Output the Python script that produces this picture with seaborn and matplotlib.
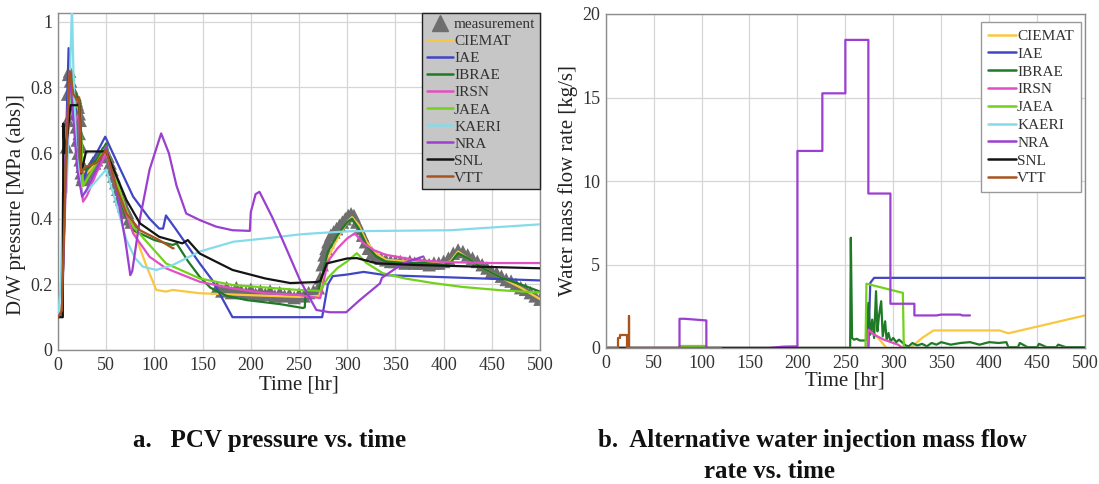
import numpy as np
import pandas as pd
import matplotlib
matplotlib.use("Agg")
import matplotlib.pyplot as plt
from matplotlib.lines import Line2D
from matplotlib.ticker import FormatStrFormatter
import seaborn as sns

# ---------------- data ----------------
models = ["CIEMAT", "IAE", "IBRAE", "IRSN", "JAEA", "KAERI", "NRA", "SNL", "VTT"]
colors = ["#f7c840", "#4146c4", "#1e7a25", "#e14fc4", "#72d11c",
          "#86dbe9", "#9b3fd0", "#141414", "#a9541f"]

# measurement (PCV pressure)
meas_t = [9, 10, 10, 11, 12, 13, 14, 15, 16, 17, 18, 18, 19, 19, 20, 20, 21, 21, 22, 22,
          23, 23, 24, 24, 25, 25, 26, 27, 28, 30, 32, 34, 36, 38, 40, 42, 44, 46, 48, 50,
          52, 54, 56, 58, 60, 62, 64, 66, 68, 70, 72, 74, 76,
          165, 170, 175, 180, 185, 190, 195, 200, 205, 210, 215, 220, 225, 230, 235, 240,
          245, 250, 255, 260, 265, 270,
          272, 274, 276, 278, 280, 283, 286, 289, 292, 295, 298, 301, 304, 307, 310, 313,
          316, 319, 322, 326, 330, 335, 340, 345, 350, 355, 360, 365, 370, 375, 380, 385,
          390, 395, 400, 405, 410, 415, 420, 425, 430, 435, 440, 445, 450, 455, 460, 465,
          470, 475, 480, 485, 490, 495, 500]
meas_p = [0.62, 0.70, 0.78, 0.84, 0.85, 0.82, 0.80, 0.78, 0.76, 0.78, 0.77, 0.72, 0.76, 0.68,
          0.75, 0.64, 0.74, 0.60, 0.72, 0.66, 0.70, 0.58, 0.62, 0.54, 0.56, 0.52, 0.53, 0.52,
          0.53, 0.54, 0.55, 0.56, 0.57, 0.57, 0.58, 0.59, 0.59, 0.60, 0.60, 0.60,
          0.59, 0.57, 0.55, 0.53, 0.51, 0.49, 0.47, 0.46, 0.44, 0.43, 0.42, 0.40, 0.39,
          0.19, 0.18, 0.19, 0.175, 0.19, 0.18, 0.175, 0.185, 0.17, 0.18, 0.17, 0.18, 0.165,
          0.175, 0.165, 0.17, 0.16, 0.17, 0.165, 0.175, 0.18, 0.19,
          0.22, 0.26, 0.29, 0.31, 0.33, 0.35, 0.36, 0.37, 0.38, 0.39, 0.40, 0.41, 0.415,
          0.41, 0.39, 0.37, 0.35, 0.33, 0.31, 0.295, 0.285, 0.28, 0.275, 0.27, 0.27, 0.27,
          0.265, 0.27, 0.265, 0.265, 0.265, 0.26, 0.265, 0.265, 0.27, 0.28, 0.295, 0.305,
          0.30, 0.29, 0.28, 0.27, 0.26, 0.25, 0.24, 0.235, 0.225, 0.215, 0.21, 0.20, 0.19,
          0.185, 0.175, 0.165, 0.155]

# model pressures [MPa (abs)]
ciemat_pt = [0, 4, 8, 12, 16, 20, 23, 25, 30, 40, 50, 60, 70, 78, 85, 92, 102, 112, 119, 147,
             200, 249, 271, 280, 290, 300, 305, 312, 320, 330, 340, 360, 380, 400, 407, 415,
             425, 440, 460, 480, 500]
ciemat_p = [0.10, 0.12, 0.55, 0.80, 0.78, 0.76, 0.74, 0.55, 0.54, 0.57, 0.60, 0.52, 0.43,
            0.376, 0.31, 0.254, 0.183, 0.178, 0.183, 0.173, 0.167, 0.162, 0.165, 0.28, 0.34,
            0.39, 0.405, 0.38, 0.33, 0.295, 0.275, 0.27, 0.265, 0.265, 0.27, 0.30, 0.28,
            0.25, 0.22, 0.19, 0.155]
iae_pt = [0, 4, 8, 11, 13, 16, 19, 22, 24, 27, 30, 40, 49, 60, 78, 95, 105, 109, 112, 123,
          147, 160, 181, 274, 280, 285, 300, 317, 340, 400, 500]
iae_p = [0.10, 0.11, 0.60, 0.92, 0.78, 0.70, 0.74, 0.76, 0.55, 0.52, 0.55, 0.60, 0.65, 0.58,
         0.467, 0.40, 0.37, 0.37, 0.41, 0.365, 0.264, 0.213, 0.10, 0.10, 0.20, 0.225, 0.23,
         0.238, 0.228, 0.222, 0.212]
ibrae_pt = [0, 4, 8, 12, 16, 20, 23, 25, 30, 40, 50, 60, 70, 78, 100, 119, 123, 135, 147,
            158, 175, 196, 230, 254, 256, 257, 270, 280, 290, 300, 305, 312, 320, 330, 340,
            360, 380, 400, 407, 415, 425, 440, 460, 480, 500]
ibrae_p = [0.10, 0.12, 0.55, 0.86, 0.80, 0.77, 0.76, 0.55, 0.55, 0.58, 0.63, 0.50, 0.41,
           0.365, 0.335, 0.32, 0.325, 0.27, 0.223, 0.19, 0.165, 0.152, 0.14, 0.128, 0.13,
           0.18, 0.18, 0.30, 0.35, 0.39, 0.40, 0.37, 0.32, 0.285, 0.27, 0.265, 0.265, 0.26,
           0.265, 0.295, 0.28, 0.25, 0.22, 0.20, 0.178]
irsn_pt = [0, 4, 8, 12, 15, 18, 22, 24, 26, 30, 40, 50, 60, 70, 78, 95, 112, 147, 181, 215,
           249, 272, 280, 290, 300, 308, 315, 327, 340, 370, 400, 450, 500]
irsn_p = [0.10, 0.12, 0.60, 0.85, 0.75, 0.70, 0.72, 0.50, 0.452, 0.47, 0.54, 0.60, 0.50,
          0.42, 0.355, 0.284, 0.249, 0.208, 0.188, 0.173, 0.168, 0.158, 0.27, 0.31, 0.34,
          0.356, 0.33, 0.305, 0.29, 0.275, 0.268, 0.265, 0.265]
jaea_pt = [0, 4, 8, 13, 16, 20, 23, 26, 30, 40, 50, 60, 70, 78, 112, 147, 181, 249, 272, 280,
           290, 300, 310, 320, 337, 360, 389, 420, 460, 500]
jaea_p = [0.10, 0.12, 0.55, 0.78, 0.76, 0.74, 0.72, 0.50, 0.52, 0.57, 0.62, 0.52, 0.43,
          0.376, 0.264, 0.218, 0.198, 0.183, 0.18, 0.22, 0.25, 0.27, 0.295, 0.265, 0.234,
          0.218, 0.204, 0.192, 0.182, 0.175]
kaeri_pt = [0, 3, 5, 9, 13, 14.5, 16, 19, 25, 35, 50, 60, 71, 80, 88, 102, 119, 147, 182,
            215, 250, 268, 303, 407, 500]
kaeri_p = [0.10, 0.20, 0.48, 0.48, 0.90, 1.05, 0.85, 0.60, 0.47, 0.50, 0.55, 0.45, 0.335,
           0.28, 0.254, 0.244, 0.259, 0.30, 0.33, 0.34, 0.352, 0.356, 0.362, 0.365, 0.383]
nra_pt = [0, 4, 8, 12, 16, 20, 25, 30, 40, 50, 60, 70, 75, 77, 85, 95, 107, 115, 123, 133,
          147, 164, 181, 199, 200, 205, 209, 215, 222, 233, 251, 268, 282, 299, 313, 334,
          336, 358, 379]
nra_p = [0.10, 0.11, 0.50, 0.85, 0.70, 0.55, 0.467, 0.49, 0.55, 0.62, 0.50, 0.33, 0.228,
         0.24, 0.40, 0.55, 0.66, 0.60, 0.50, 0.416, 0.396, 0.376, 0.365, 0.363, 0.42, 0.475,
         0.482, 0.447, 0.406, 0.335, 0.213, 0.122, 0.115, 0.115, 0.152, 0.203, 0.22, 0.264,
         0.285]
snl_pt = [0, 5, 5.5, 7, 10, 13, 22, 23, 24, 29, 30, 50, 71, 85, 105, 129, 134.6, 147, 181,
          215, 241, 268, 272, 279, 300, 310, 331, 372, 500]
snl_p = [0.10, 0.10, 0.69, 0.60, 0.66, 0.746, 0.746, 0.70, 0.538, 0.604, 0.605, 0.605,
         0.457, 0.386, 0.345, 0.325, 0.335, 0.294, 0.244, 0.218, 0.204, 0.207, 0.21, 0.264,
         0.279, 0.28, 0.264, 0.259, 0.249]
vtt_pt = [0, 4, 8, 12, 16, 20, 22, 24, 26, 30, 40, 50, 60, 71, 85, 105, 119, 120]
vtt_p = [0.10, 0.12, 0.55, 0.85, 0.78, 0.76, 0.77, 0.54, 0.55, 0.56, 0.57, 0.61, 0.50,
         0.416, 0.365, 0.335, 0.31, 0.31]

# alternative water injection [kg/s]
ciemat_ft = [0, 274, 274, 283, 293, 318, 330, 342, 411, 420, 500]
ciemat_f = [0, 0, 1.2, 0.68, 0, 0, 0.6, 1.05, 1.05, 0.88, 1.95]
iae_ft = [0, 274, 276, 280, 500]
iae_f = [0, 0, 3.9, 4.2, 4.2]
ibrae_ft = [0, 255, 255.7, 257, 259, 262, 265, 270, 272, 274, 276, 278, 280, 282, 283.5,
            285, 287.4, 289, 291.5, 293, 295, 297, 300, 303, 306, 310, 313, 316, 320, 325,
            330, 335, 340, 345, 350, 360, 370, 380, 390, 400, 410, 418, 420, 430, 432, 440,
            450, 452, 460, 470, 472, 480, 500]
ibrae_f = [0, 0, 6.6, 0.6, 0.5, 0.55, 0.45, 0.45, 0.5, 2.7, 0.8, 1.7, 0.6, 3.4, 1.0, 1.9,
           2.8, 0.7, 1.6, 0.5, 0.9, 0.4, 0.6, 0.35, 0.5, 0.3, 0.15, 0.1, 0.3, 0.15, 0.25,
           0.1, 0.3, 0.2, 0.35, 0.2, 0.3, 0.35, 0.2, 0.35, 0.3, 0.35, 0.05, 0.05, 0.3, 0.05,
           0.05, 0.25, 0.05, 0.05, 0.2, 0.05, 0.05]
irsn_ft = [0, 273, 274, 280, 290, 300, 305, 310, 500]
irsn_f = [0, 0, 1.1, 0.8, 0.5, 0.3, 0.2, 0, 0]
jaea_ft = [0, 77, 77, 105, 105, 271, 272, 310, 311, 500]
jaea_f = [0, 0, 0.12, 0.12, 0, 0, 3.85, 3.3, 0, 0]
kaeri_ft = [0, 500]
kaeri_f = [0, 0]
nra_ft = [0, 77, 77, 82, 105, 105, 170, 185, 200, 200, 226, 226, 250, 250, 274, 274, 297,
          297, 322, 322, 345, 350, 370, 372, 380]
nra_f = [0, 0, 1.75, 1.75, 1.65, 0, 0, 0.08, 0.1, 11.8, 11.8, 15.25, 15.25, 18.45, 18.45,
         9.25, 9.25, 2.65, 2.65, 1.95, 1.95, 2.0, 2.0, 1.95, 1.95]
snl_ft = [0, 500]
snl_f = [0, 0]
vtt_ft = [0, 13, 13, 15, 15, 22.5, 22.5, 24, 24, 24.3, 24.3, 120]
vtt_f = [0, 0, 0.58, 0.58, 0.78, 0.78, 0, 0, 1.9, 1.9, 0, 0]

x_ticks = [0, 50, 100, 150, 200, 250, 300, 350, 400, 450, 500]
p_ticks = [0, 0.2, 0.4, 0.6, 0.8, 1.0]
f_ticks = [0, 5, 10, 15, 20]

# ---------------- build frames ----------------
p_series = [(ciemat_pt, ciemat_p), (iae_pt, iae_p), (ibrae_pt, ibrae_p), (irsn_pt, irsn_p),
            (jaea_pt, jaea_p), (kaeri_pt, kaeri_p), (nra_pt, nra_p), (snl_pt, snl_p),
            (vtt_pt, vtt_p)]
f_series = [(ciemat_ft, ciemat_f), (iae_ft, iae_f), (ibrae_ft, ibrae_f), (irsn_ft, irsn_f),
            (jaea_ft, jaea_f), (kaeri_ft, kaeri_f), (nra_ft, nra_f), (snl_ft, snl_f),
            (vtt_ft, vtt_f)]


def long_frame(series):
    rows = []
    for m, (t, v) in zip(models, series):
        assert len(t) == len(v), m
        for i, (a, b) in enumerate(zip(t, v)):
            rows.append((m, i, a, b))
    return pd.DataFrame(rows, columns=["model", "idx", "t", "v"])


df_p = long_frame(p_series)
df_f = long_frame(f_series)
df_meas = pd.DataFrame({"t": meas_t, "p": meas_p})
palette = dict(zip(models, colors))

# ---------------- style ----------------
sns.set_theme(style="whitegrid")
plt.rcParams["font.family"] = ["Liberation Serif", "DejaVu Serif"]
plt.rcParams["axes.edgecolor"] = "#8c8c8c"
plt.rcParams["grid.color"] = "#d6d6d6"
plt.rcParams["grid.linewidth"] = 0.9

fig = plt.figure(figsize=(10.99, 4.84), dpi=100)
ax1 = fig.add_axes([58 / 1099, 1 - 350 / 484, (540 - 58) / 1099, (350 - 13) / 484])
ax2 = fig.add_axes([605.7 / 1099, 1 - 348 / 484, (1085 - 605.7) / 1099, (348 - 14) / 484])

# left: pressure
sns.scatterplot(data=df_meas, x="t", y="p", ax=ax1, marker="^", s=95, color="#6e6e6e",
                edgecolor="none", legend=False, zorder=2)
sns.lineplot(data=df_p, x="t", y="v", hue="model", hue_order=models, palette=palette,
             estimator=None, sort=False, units="model", ax=ax1, linewidth=1.6,
             legend=False, zorder=3)
ax1.set_xlim(0, 500)
ax1.set_ylim(0, 1.027)
ax1.set_xticks(x_ticks)
ax1.set_yticks(p_ticks)
ax1.yaxis.set_major_formatter(FormatStrFormatter("%g"))
ax1.set_xlabel("Time [hr]", fontsize=15, labelpad=1)
ax1.set_ylabel("D/W pressure [MPa (abs)]", fontsize=15)
ax1.yaxis.set_label_coords(-0.066, 0.433)

# right: injection rate
sns.lineplot(data=df_f, x="t", y="v", hue="model", hue_order=models, palette=palette,
             estimator=None, sort=False, units="model", ax=ax2, linewidth=1.6,
             legend=False)
ax2.set_xlim(0, 500)
ax2.set_ylim(0, 20)
ax2.set_xticks(x_ticks)
ax2.set_yticks(f_ticks)
ax2.set_xlabel("Time [hr]", fontsize=15, labelpad=0)
ax2.set_ylabel("Water mass flow rate [kg/s]", fontsize=15)
ax2.yaxis.set_label_coords(-0.058, 0.5)

for ax in (ax1, ax2):
    ax.tick_params(axis="both", labelsize=13, direction="in", length=3,
                   colors="#8c8c8c", labelcolor="#333333")
    ax.tick_params(axis="x", pad=5)
    ax.tick_params(axis="y", pad=4)
    for s in ax.spines.values():
        s.set_color("#8c8c8c")
        s.set_linewidth(1.0)
    ax.xaxis.label.set_color("#222222")
    ax.yaxis.label.set_color("#222222")

# legends
line_handles = [Line2D([0], [0], color=c, lw=1.8) for c in colors]
meas_handle = Line2D([0], [0], marker="^", color="#6e6e6e", lw=0, markersize=12)
leg1 = ax1.legend([meas_handle] + line_handles, ["measurement"] + models,
                  loc="upper right", bbox_to_anchor=(1.0, 1.0), borderaxespad=0,
                  fontsize=11, frameon=True, fancybox=False, framealpha=1,
                  facecolor="#c6c6c6", edgecolor="#222222", handlelength=1.75,
                  handletextpad=0.05, labelspacing=0.22, borderpad=0.3)
leg1.get_frame().set_linewidth(1.0)
leg2 = ax2.legend(line_handles, models, loc="upper right", bbox_to_anchor=(0.991, 0.975),
                  borderaxespad=0, fontsize=11, frameon=True, fancybox=False,
                  framealpha=1, facecolor="white", edgecolor="#9a9a9a", handlelength=1.85,
                  handletextpad=0.05, labelspacing=0.27, borderpad=0.45)
for t in leg1.get_texts() + leg2.get_texts():
    t.set_color("#333333")

# captions
fig.text(133 / 1099, 1 - 441 / 484, "a.   PCV pressure vs. time", fontsize=18,
         fontweight="bold", ha="left", va="center", color="#111111")
fig.text(598 / 1099, 1 - 441 / 484, "b.  Alternative water injection mass flow",
         fontsize=18, fontweight="bold", ha="left", va="center", color="#111111")
fig.text(770 / 1099, 1 - 471 / 484, "rate vs. time", fontsize=18, fontweight="bold",
         ha="center", va="center", color="#111111")

fig.savefig("out.png", dpi=100)
